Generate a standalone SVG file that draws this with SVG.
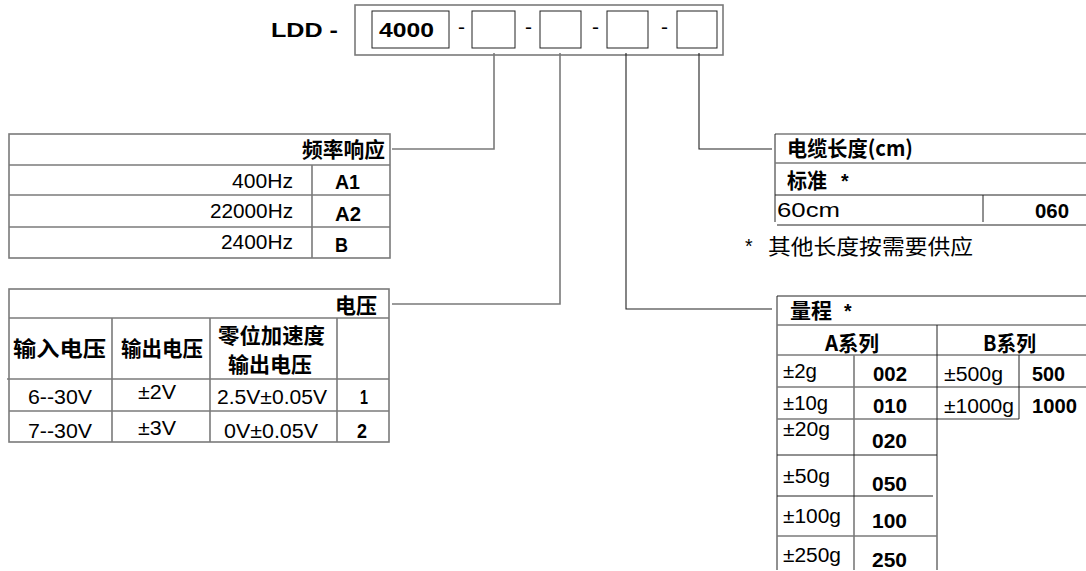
<svg xmlns="http://www.w3.org/2000/svg" width="1086" height="571" viewBox="0 0 1086 571">
<style>
text{font-family:"Liberation Sans","Noto Sans CJK SC",sans-serif;fill:#000;font-size:19.5px}
.b{font-weight:700}
.cj{font-family:"Noto Sans CJK SC",sans-serif;font-size:21px}
.g{stroke:#7a7a7a;stroke-width:1.6;fill:none}
.k{stroke:#222;stroke-width:1;fill:none}
.cg{stroke:#7a7a7a;stroke-width:1.6;fill:none}
.ck{stroke:#222;stroke-width:1.1;fill:none}
</style>
<rect width="1086" height="571" fill="#fff"/>

<g id="code">
<text class="b" x="271" y="37" font-size="20.5" textLength="67" lengthAdjust="spacingAndGlyphs">LDD -</text>
<rect class="g" x="355" y="5" width="368" height="50"/>
<rect class="k" x="372" y="11" width="77" height="37"/>
<text class="b" x="379" y="37" font-size="19" textLength="55" lengthAdjust="spacingAndGlyphs">4000</text>
<text x="458" y="34" font-size="13" textLength="7" lengthAdjust="spacingAndGlyphs">-</text>
<rect class="k" x="472" y="11" width="43" height="37"/>
<text x="525" y="34" font-size="13" textLength="7" lengthAdjust="spacingAndGlyphs">-</text>
<rect class="k" x="540" y="11" width="41" height="37"/>
<text x="592" y="34" font-size="13" textLength="7" lengthAdjust="spacingAndGlyphs">-</text>
<rect class="k" x="607" y="11" width="41" height="37"/>
<text x="661" y="34" font-size="13" textLength="7" lengthAdjust="spacingAndGlyphs">-</text>
<rect class="k" x="677" y="11" width="40" height="37"/>
</g>

<g id="connectors">
<polyline class="cg" points="494,53 494,149 392,149"/>
<polyline class="cg" points="560,53 560,304 392,304"/>
<polyline class="ck" points="626,53 626,309 772,309"/>
<polyline class="ck" points="699,53 699,149 772,149"/>
</g>

<g id="freq">
<rect class="g" x="9" y="134" width="381" height="124"/>
<line class="g" x1="9" y1="165" x2="390" y2="165"/>
<line class="g" x1="9" y1="195" x2="390" y2="195"/>
<line class="g" x1="9" y1="227" x2="390" y2="227"/>
<line class="g" x1="312" y1="165" x2="312" y2="258"/>
<text class="cj b" x="302" y="157" font-size="21.5" textLength="83" lengthAdjust="spacingAndGlyphs">频率响应</text>
<text x="232" y="188" textLength="61" lengthAdjust="spacingAndGlyphs">400Hz</text>
<text class="b" x="335" y="189" textLength="25" lengthAdjust="spacingAndGlyphs">A1</text>
<text x="210" y="218" textLength="83" lengthAdjust="spacingAndGlyphs">22000Hz</text>
<text class="b" x="335" y="221" textLength="26" lengthAdjust="spacingAndGlyphs">A2</text>
<text x="221" y="249" textLength="72" lengthAdjust="spacingAndGlyphs">2400Hz</text>
<text class="b" x="335" y="252" textLength="13" lengthAdjust="spacingAndGlyphs">B</text>
</g>

<g id="voltage">
<rect class="g" x="9" y="289" width="380" height="153"/>
<line class="g" x1="9" y1="318" x2="389" y2="318"/>
<line class="g" x1="7" y1="379" x2="389" y2="379"/>
<line class="g" x1="9" y1="411" x2="389" y2="411"/>
<line class="g" x1="112" y1="318" x2="112" y2="442"/>
<line class="g" x1="210" y1="318" x2="210" y2="442"/>
<line class="g" x1="337" y1="318" x2="337" y2="442"/>
<text class="cj b" x="335" y="313" font-size="21.5" textLength="42" lengthAdjust="spacingAndGlyphs">电压</text>
<text class="cj b" x="13" y="356" textLength="93" lengthAdjust="spacingAndGlyphs">输入电压</text>
<text class="cj b" x="121" y="356" textLength="82" lengthAdjust="spacingAndGlyphs">输出电压</text>
<text class="cj b" x="218" y="343" font-size="17" textLength="107" lengthAdjust="spacingAndGlyphs">零位加速度</text>
<text class="cj b" x="228" y="372" font-size="17" textLength="84" lengthAdjust="spacingAndGlyphs">输出电压</text>
<text x="28" y="404" textLength="64" lengthAdjust="spacingAndGlyphs">6--30V</text>
<text x="138" y="399" textLength="38" lengthAdjust="spacingAndGlyphs">±2V</text>
<text x="217" y="404" textLength="110" lengthAdjust="spacingAndGlyphs">2.5V±0.05V</text>
<text class="b" x="360" y="404" textLength="8" lengthAdjust="spacingAndGlyphs">1</text>
<text x="28" y="438" textLength="64" lengthAdjust="spacingAndGlyphs">7--30V</text>
<text x="138" y="435" textLength="38" lengthAdjust="spacingAndGlyphs">±3V</text>
<text x="224" y="438" textLength="94" lengthAdjust="spacingAndGlyphs">0V±0.05V</text>
<text class="b" x="357" y="438" textLength="10" lengthAdjust="spacingAndGlyphs">2</text>
</g>

<g id="cable">
<line class="g" x1="775" y1="134" x2="1086" y2="134"/>
<line class="k" x1="775" y1="134" x2="775" y2="222"/>
<line class="g" x1="775" y1="163" x2="1086" y2="163"/>
<line class="k" x1="775" y1="195" x2="1086" y2="195"/>
<line class="k" x1="777" y1="225" x2="1086" y2="225"/>
<line class="k" x1="983" y1="195" x2="983" y2="222"/>
<text class="cj b" x="787" y="156" textLength="126" lengthAdjust="spacingAndGlyphs">电缆长度(cm)</text>
<text class="cj b" x="787" y="188" textLength="40" lengthAdjust="spacingAndGlyphs">标准</text>
<text class="b" x="841" y="188" font-size="17">*</text>
<text x="777" y="217" textLength="63" lengthAdjust="spacingAndGlyphs">60cm</text>
<text class="b" x="1035" y="218" textLength="34" lengthAdjust="spacingAndGlyphs">060</text>
</g>

<g id="note">
<text x="745" y="253" font-size="17">*</text>
<text class="cj" x="768" y="254" font-size="21" textLength="205" lengthAdjust="spacingAndGlyphs">其他长度按需要供应</text>
</g>

<g id="range">
<line class="k" x1="777" y1="296" x2="1086" y2="296"/>
<line class="k" x1="777" y1="296" x2="777" y2="570"/>
<line class="g" x1="777" y1="325" x2="1086" y2="325"/>
<line class="g" x1="777" y1="355" x2="1086" y2="355"/>
<line class="g" x1="777" y1="387" x2="1086" y2="387"/>
<line class="g" x1="777" y1="419" x2="1019" y2="419"/>
<line class="k" x1="937" y1="325" x2="937" y2="570"/>
<line class="g" x1="854" y1="355" x2="854" y2="570"/>
<line class="k" x1="1019" y1="355" x2="1019" y2="419"/>
<line class="k" x1="777" y1="455" x2="937" y2="455"/>
<line class="k" x1="777" y1="496" x2="933" y2="496"/>
<line class="g" x1="777" y1="536" x2="937" y2="536"/>
<text class="cj b" x="790" y="318" textLength="42" lengthAdjust="spacingAndGlyphs">量程</text>
<text class="b" x="844" y="318" font-size="17">*</text>
<text class="cj b" x="825" y="351" textLength="54" lengthAdjust="spacingAndGlyphs">A系列</text>
<text class="cj b" x="983" y="351" textLength="53" lengthAdjust="spacingAndGlyphs">B系列</text>
<text x="783" y="378" textLength="34" lengthAdjust="spacingAndGlyphs">±2g</text>
<text class="b" x="873" y="381" textLength="34" lengthAdjust="spacingAndGlyphs">002</text>
<text x="944" y="381" textLength="59" lengthAdjust="spacingAndGlyphs">±500g</text>
<text class="b" x="1032" y="381" textLength="33" lengthAdjust="spacingAndGlyphs">500</text>
<text x="783" y="410" textLength="45" lengthAdjust="spacingAndGlyphs">±10g</text>
<text class="b" x="873" y="413" textLength="34" lengthAdjust="spacingAndGlyphs">010</text>
<text x="944" y="413" textLength="70" lengthAdjust="spacingAndGlyphs">±1000g</text>
<text class="b" x="1032" y="413" textLength="45" lengthAdjust="spacingAndGlyphs">1000</text>
<text x="783" y="436" textLength="47" lengthAdjust="spacingAndGlyphs">±20g</text>
<text class="b" x="872" y="448" textLength="35" lengthAdjust="spacingAndGlyphs">020</text>
<text x="783" y="483" textLength="47" lengthAdjust="spacingAndGlyphs">±50g</text>
<text class="b" x="872" y="491" textLength="35" lengthAdjust="spacingAndGlyphs">050</text>
<text x="783" y="523" textLength="58" lengthAdjust="spacingAndGlyphs">±100g</text>
<text class="b" x="872" y="528" textLength="35" lengthAdjust="spacingAndGlyphs">100</text>
<text x="783" y="562" textLength="58" lengthAdjust="spacingAndGlyphs">±250g</text>
<text class="b" x="872" y="567" textLength="35" lengthAdjust="spacingAndGlyphs">250</text>
</g>
</svg>
